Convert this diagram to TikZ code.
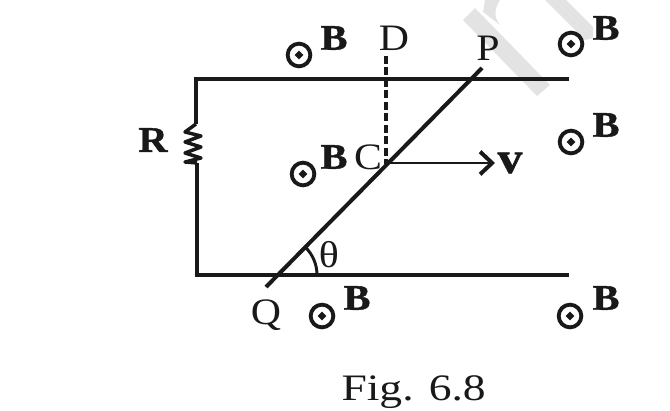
\documentclass[tikz,border=0pt]{standalone}
\usepackage{fontspec}
\newfontfamily\labelfont[FakeStretch=1.12]{Liberation Serif}
\newfontfamily\captionfont[FakeStretch=1.22]{Liberation Serif}
\newfontfamily\fieldfont[FakeStretch=1.12,FakeBold=1.2]{Liberation Serif Bold}
\usetikzlibrary{arrows.meta,shapes.geometric}
\tikzset{every picture/.style={line width=0.75pt}}
\tikzset{
  wire/.style={line width=3pt,color=black!90},
  ring/.style={circle,draw=black!90,line width=2.9pt,minimum size=17pt,inner sep=0pt},
  ringdot/.style={diamond,fill=black!90,minimum size=7pt,inner sep=0pt},
  fieldlabel/.style={font=\fontsize{27}{27}\fieldfont,inner sep=0pt,color=black!90},
  pointlabel/.style={font=\fontsize{28}{28}\labelfont,inner sep=0pt,color=black!90},
}
\begin{document}
\begin{tikzpicture}[x=0.75pt,y=0.75pt,yscale=-1,xscale=1]
\useasboundingbox (0,0) rectangle (670,410);

%Watermark
\fill [black!11] (463,20) -- (475,8) -- (550,85) -- (537,96) -- cycle ;
\fill [black!11] (485,0) -- (500,0) .. controls (495,8) and (493,16) .. (500,25) -- (483,12) -- cycle ;
\fill [black!11] (545,0) -- (566,0) -- (593,27) -- (593,38) -- (585,40) -- cycle ;

%Corner points
\coordinate (topL) at (196,79);
\coordinate (topR) at (569,79);
\coordinate (botL) at (197,275);
\coordinate (botR) at (569,275);
\coordinate (resTop) at (196,124);
\coordinate (resBot) at (197,163);
\coordinate (rodQ) at (266,287);
\coordinate (rodP) at (482,68);
\coordinate (ptC) at (386,164);
\coordinate (ptD) at (386,56);
\coordinate (tipV) at (495,163);
\coordinate (arcS) at (317,275);

%Rails
\draw [wire] (topR) -- (topL) -- (resTop) ;
\draw [wire] (resBot) -- (botL) -- (botR) ;
%Resistor
\draw [line width=2.6pt,color=black!90,line join=round] (resTop) -- (185,132) -- (201,136) -- (185,142) -- (201,147) -- (185,153) -- (201,158) -- (185,162) -- (resBot) ;
%Rod
\draw [line width=3pt,color=black!90] (rodQ) -- (rodP) ;
%Dashed line
\draw [line width=2.8pt,color=black!90,dash pattern={on 6pt off 2.6pt}] (ptD) -- (ptC) ;
%Velocity
\draw [line width=1.4pt,color=black!90,-{Straight Barb[line width=3pt,length=9pt,width=17pt]}] (ptC |- tipV) -- (tipV) ;
%Angle
\draw [line width=2.2pt,color=black!90] (arcS) arc (0:-45:39) ;

%Field markers
\node [ring] (ringA) at (299,55) {};
\node [ring] (ringB) at (303,174) {};
\node [ring] (ringC) at (322,316) {};
\node [ring] (ringD) at (571,44) {};
\node [ring] (ringE) at (571,142) {};
\node [ring] (ringF) at (570,316) {};
\node [ringdot] (dotA) at (ringA) {};
\node [ringdot] (dotB) at (ringB) {};
\node [ringdot] (dotC) at (ringC) {};
\node [ringdot] (dotD) at (ringD) {};
\node [ringdot] (dotE) at (ringE) {};
\node [ringdot] (dotF) at (ringF) {};

% Text Node
\node [fieldlabel] (labA) at (334,38) {B};
\node [fieldlabel] (labB) at (334,157) {B};
\node [fieldlabel] (labC) at (357,298) {B};
\node [fieldlabel] (labD) at (606,28) {B};
\node [fieldlabel] (labE) at (606,125) {B};
\node [fieldlabel] (labF) at (606,298) {B};
\node [fieldlabel] (labR) at (153,140) {R};
\node [fieldlabel,font=\fontsize{33}{33}\fieldfont] (labV) at (510,163) {v};
% Text Node
\node [pointlabel] (labD2) at (394,38) {D};
\node [pointlabel] (labC2) at (368,157) {C};
\node [pointlabel] (labP) at (488,48) {P};
\node [pointlabel] (labQ) at (266,315) {Q};
\node [pointlabel] (labT) at (329,255) {θ};
% Text Node
\node [pointlabel,font=\fontsize{28}{28}\captionfont,anchor=base west] (labFig) at (341,400) {Fig. 6.8};
\end{tikzpicture}
\end{document}
